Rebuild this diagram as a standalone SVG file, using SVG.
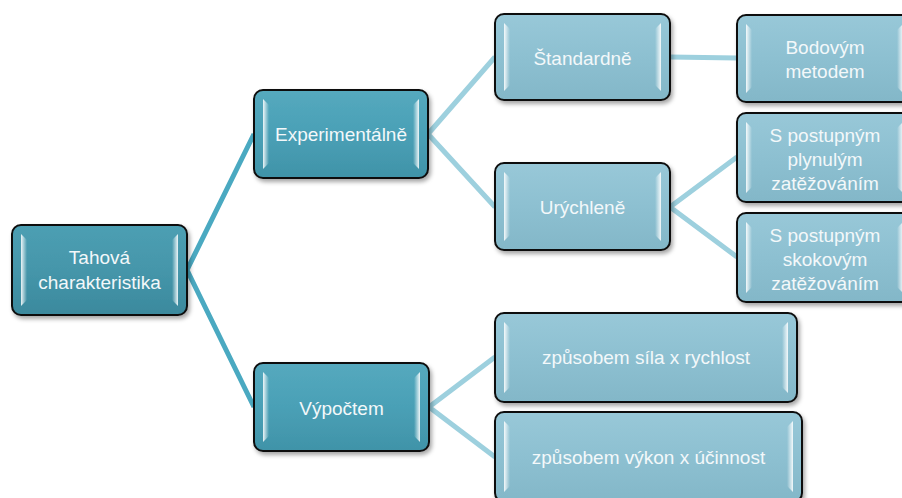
<svg xmlns="http://www.w3.org/2000/svg" width="902" height="498" viewBox="0 0 902 498">
<defs>
<linearGradient id="gDark" x1="0" y1="0" x2="0" y2="1">
<stop offset="0" stop-color="#55a9be"/><stop offset="0.5" stop-color="#4aa0b6"/><stop offset="1" stop-color="#4093a8"/>
</linearGradient>
<linearGradient id="gRoot" x1="0" y1="0" x2="0" y2="1">
<stop offset="0" stop-color="#4d9fb3"/><stop offset="0.5" stop-color="#4596aa"/><stop offset="1" stop-color="#3b899d"/>
</linearGradient>
<linearGradient id="gLight" x1="0" y1="0" x2="0" y2="1">
<stop offset="0" stop-color="#98c8d8"/><stop offset="0.5" stop-color="#8dc0d1"/><stop offset="1" stop-color="#83b7c8"/>
</linearGradient>
<linearGradient id="hlL" x1="0" y1="0" x2="1" y2="0">
<stop offset="0" stop-color="#ffffff" stop-opacity="0.9"/><stop offset="1" stop-color="#ffffff" stop-opacity="0"/>
</linearGradient>
<linearGradient id="hlR" x1="1" y1="0" x2="0" y2="0">
<stop offset="0" stop-color="#ffffff" stop-opacity="0.9"/><stop offset="1" stop-color="#ffffff" stop-opacity="0"/>
</linearGradient>
<filter id="sh" x="-10%" y="-10%" width="125%" height="130%">
<feDropShadow dx="2" dy="3" stdDeviation="2" flood-color="#000" flood-opacity="0.35"/>
</filter>
</defs>
<style>
.box{stroke:#111;stroke-width:2;filter:url(#sh)}
.dark{fill:url(#gDark)}
.root{fill:url(#gRoot)}
.light{fill:url(#gLight)}
.hl{fill:url(#hlL)}
.hr{fill:url(#hlR)}
text{font-family:"Liberation Sans","DejaVu Sans",sans-serif;font-size:19px;fill:#f3f8fa;text-anchor:middle}
.c1{stroke:#4aa9c1;stroke-width:5;fill:none}
.c2{stroke:#9dd0de;stroke-width:5;fill:none}
</style>
<g id="connectors">
<path class="c1" d="M187,270 L254,134 M187,270 L254,407"/>
<path class="c2" d="M428,134 L495,57 M428,134 L495,207"/>
<path class="c2" d="M670,57 L737,58"/>
<path class="c2" d="M670,207 L737,157 M670,207 L737,257"/>
<path class="c2" d="M429,407 L495,357 M429,407 L495,457"/>
</g>
<g id="n-root">
<rect class="box root" x="12" y="225" width="175" height="90" rx="9"/>
<path class="hl" d="M21,234 L27,240 L27,300 L21,306 Z"/>
<path class="hr" d="M178,234 L172,240 L172,300 L178,306 Z"/>
<text x="99.5" y="264">Tahová</text>
<text x="99.5" y="289">charakteristika</text>
</g>
<g id="n-exp">
<rect class="box dark" x="254" y="90" width="174" height="88" rx="9"/>
<path class="hl" d="M263,99 L269,105 L269,163 L263,169 Z"/>
<path class="hr" d="M419,99 L413,105 L413,163 L419,169 Z"/>
<text x="341" y="141">Experimentálně</text>
</g>
<g id="n-vyp">
<rect class="box dark" x="254" y="363" width="175" height="88" rx="9"/>
<path class="hl" d="M263,372 L269,378 L269,436 L263,442 Z"/>
<path class="hr" d="M420,372 L414,378 L414,436 L420,442 Z"/>
<text x="341.5" y="415">Výpočtem</text>
</g>
<g id="n-std">
<rect class="box light" x="495" y="14" width="175" height="86" rx="9"/>
<path class="hl" d="M504,23 L510,29 L510,85 L504,91 Z"/>
<path class="hr" d="M661,23 L655,29 L655,85 L661,91 Z"/>
<text x="582.5" y="65">Štandardně</text>
</g>
<g id="n-ury">
<rect class="box light" x="495" y="163" width="175" height="87" rx="9"/>
<path class="hl" d="M504,172 L510,178 L510,235 L504,241 Z"/>
<path class="hr" d="M661,172 L655,178 L655,235 L661,241 Z"/>
<text x="582.5" y="214">Urýchleně</text>
</g>
<g id="n-bod">
<rect class="box light" x="737" y="15" width="176" height="87" rx="9"/>
<path class="hl" d="M746,24 L752,30 L752,87 L746,93 Z"/>
<path class="hr" d="M903,24 L897,30 L897,87 L903,93 Z"/>
<text x="825" y="54">Bodovým</text>
<text x="825" y="78">metodem</text>
</g>
<g id="n-ply">
<rect class="box light" x="737" y="113" width="176" height="89" rx="9"/>
<path class="hl" d="M746,122 L752,128 L752,187 L746,193 Z"/>
<path class="hr" d="M903,122 L897,128 L897,187 L903,193 Z"/>
<text x="825" y="142">S postupným</text>
<text x="825" y="166">plynulým</text>
<text x="825" y="190">zatěžováním</text>
</g>
<g id="n-sko">
<rect class="box light" x="737" y="213" width="176" height="89" rx="9"/>
<path class="hl" d="M746,222 L752,228 L752,287 L746,293 Z"/>
<path class="hr" d="M903,222 L897,228 L897,287 L903,293 Z"/>
<text x="825" y="242">S postupným</text>
<text x="825" y="266">skokovým</text>
<text x="825" y="290">zatěžováním</text>
</g>
<g id="n-sila">
<rect class="box light" x="495" y="313" width="302" height="89" rx="9"/>
<path class="hl" d="M504,322 L510,328 L510,387 L504,393 Z"/>
<path class="hr" d="M788,322 L782,328 L782,387 L788,393 Z"/>
<text x="646" y="364">způsobem síla x rychlost</text>
</g>
<g id="n-vykon">
<rect class="box light" x="495" y="412" width="307" height="90" rx="9"/>
<path class="hl" d="M504,421 L510,427 L510,486 L504,492 Z"/>
<path class="hr" d="M793,421 L787,427 L787,486 L793,492 Z"/>
<text x="648.5" y="464">způsobem výkon x účinnost</text>
</g>
</svg>
